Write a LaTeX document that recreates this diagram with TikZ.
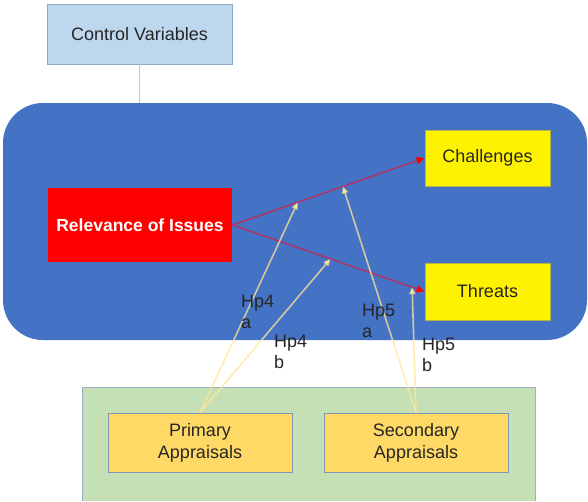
\documentclass[tikz,border=0pt]{standalone}
\usepackage{fontspec}
\setmainfont{Liberation Sans}
\usetikzlibrary{arrows.meta}

\definecolor{ctrlfill}{HTML}{BDD7EE}
\definecolor{ctrledge}{HTML}{8EA9C9}
\definecolor{ctrlline}{HTML}{B4C7E7}
\definecolor{panelblue}{HTML}{4472C4}
\definecolor{yellowedge}{HTML}{B5B53A}
\definecolor{greenfill}{HTML}{C5E0B4}
\definecolor{greenedge}{HTML}{9DAFC4}
\definecolor{apprfill}{HTML}{FFD966}
\definecolor{appredge}{HTML}{8497B0}
\definecolor{effectline}{HTML}{A8386A}
\definecolor{hpline}{HTML}{FFE699}

\begin{document}
\begin{tikzpicture}[x=1pt,y=-1pt,
    box/.style={inner sep=0pt, align=center, text=black!85,
      font=\fontsize{18}{22}\selectfont, line width=0.8pt},
    effect/.style={draw=effectline, line width=1.6pt, -{Triangle[length=8pt,width=7pt,color=red]}},
    hyp/.style={draw=hpline, draw opacity=0.75, line width=1.6pt, -{Triangle[length=7pt,width=6pt,color=hpline]}},
    hplabel/.style={anchor=north west, inner sep=0pt, align=left, text=black!85,
      font=\fontsize{18}{21}\selectfont}]
  \useasboundingbox (0,0) rectangle (588,501);

  % panels
  \fill[panelblue, rounded corners=40pt] (3,103) rectangle (587,340);
  \fill[greenfill] (82,387) rectangle (535,501);
  \draw[greenedge, line width=0.8pt] (82,501) |- (535,387) -- (535,501);

  % nodes
  \node[box, draw=ctrledge, fill=ctrlfill, minimum width=185pt, minimum height=60pt] (ctrl) at (139.5,34) {Control Variables};
  \node[box, fill=red, text=white, minimum width=184pt, minimum height=74pt,
        font=\fontsize{17.5}{21}\selectfont\bfseries] (rel) at (140,225) {Relevance of Issues};
  \node[box, draw=yellowedge, fill=yellow, minimum width=125pt, minimum height=56pt] (chal) at (487.5,158) {Challenges};
  \node[box, draw=yellowedge, fill=yellow, minimum width=125pt, minimum height=57pt] (thr) at (487.5,291.5) {Threats};
  \node[box, draw=appredge, fill=apprfill, minimum width=184pt, minimum height=59pt] (prim) at (200,442.5) {Primary\\Appraisals};
  \node[box, draw=appredge, fill=apprfill, minimum width=184pt, minimum height=59pt] (sec) at (416,442.5) {Secondary\\Appraisals};

  \draw[ctrlline, line width=1.4pt] (ctrl.south) -- (139.5,103);

  % main effects
  \draw[effect] (rel.east) -- (chal.west)
    coordinate[pos=0.34] (h4a) coordinate[pos=0.575] (h5a);
  \draw[effect] (rel.east) -- (thr.west)
    coordinate[pos=0.51] (h4b) coordinate[pos=0.935] (h5b);

  % moderating hypotheses
  \draw[hyp] (prim.north) -- (h4a);
  \draw[hyp] (prim.north) -- (h4b);
  \draw[hyp] (sec.north) -- (h5a);
  \draw[hyp] (sec.north) -- (h5b);

  \node[hplabel] (l4a) at (241,295) {Hp4\\a};
  \node[hplabel] (l4b) at (274,335) {Hp4\\b};
  \node[hplabel] (l5a) at (362,304) {Hp5\\a};
  \node[hplabel] (l5b) at (422,338) {Hp5\\b};
\end{tikzpicture}
\end{document}
